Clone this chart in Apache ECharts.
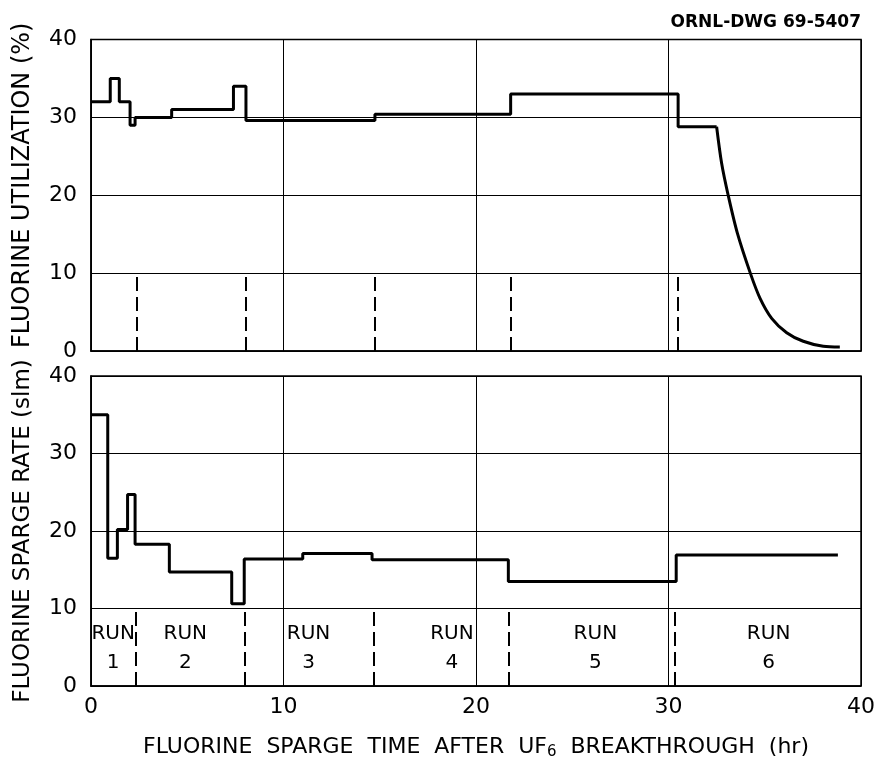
<!DOCTYPE html>
<html>
<head>
<meta charset="utf-8">
<script src="https://cdn.jsdelivr.net/npm/echarts@6/dist/echarts.min.js"></script>
<style>
  html, body { margin: 0; padding: 0; background: #fff; }
  #chart { width: 879px; height: 764px; }
</style>
</head>
<body>
<div id="chart"></div>
<script>
// utilization steps: [time where value starts, value]
var utilSteps = [[0, 32], [1.0, 35], [1.47, 32], [2.03, 29], [2.29, 30], [4.19, 31],
  [7.4, 34], [8.05, 29.6], [14.75, 30.4], [21.8, 33], [30.5, 28.8], [32.5, 28.8]];
// falling tail of run 6
var utilTail = [[32.5, 28.8], [32.76, 24.1], [33.1, 20], [33.57, 15.2], [34.25, 10], [34.75, 6.8],
  [35.36, 4.2], [36.14, 2.35], [37.0, 1.25], [38.04, 0.6], [38.9, 0.5]];
// sparge rate steps
var rateSteps = [[0, 35], [0.87, 16.5], [1.37, 20.2], [1.9, 24.7], [2.29, 18.3], [4.07, 14.7],
  [7.31, 10.6], [7.96, 16.4], [11.0, 17.1], [14.6, 16.3], [21.68, 13.5], [30.4, 16.9], [38.8, 16.9]];
// run boundaries (dashed)
var runEndsTop = [2.4, 8.05, 14.75, 21.8, 30.5];
var runEndsBottom = [2.33, 7.97, 14.68, 21.72, 30.35];
var runLabelX = [1.15, 4.9, 11.3, 18.75, 26.2, 35.2];
var runNames = ['1', '2', '3', '4', '5', '6'];
var xTicks = [0, 10, 20, 30, 40];
var yTicks = [0, 10, 20, 30, 40];

var font = 'DejaVu Sans';
var chart = echarts.init(document.getElementById('chart'));

function dashes(xs) {
  return xs.map(function (x) {
    return [{ coord: [x, 0] }, { coord: [x, 10] }];
  });
}

function yAxis(idx, name, size, pad) {
  return {
    gridIndex: idx, type: 'value', min: yTicks[0], max: yTicks[yTicks.length - 1], interval: 10,
    name: name, nameLocation: 'middle', nameGap: 56,
    nameTextStyle: { fontFamily: font, fontSize: size, color: '#000', padding: pad },
    axisLine: { show: true, lineStyle: { color: '#000', width: 1.5 } },
    axisTick: { show: false },
    axisLabel: { fontFamily: font, fontSize: 22, color: '#000', margin: 14 },
    splitLine: { lineStyle: { color: '#000', width: 1 } }
  };
}

function xAxis(idx, showLabels) {
  var ax = {
    gridIndex: idx, type: 'value', min: xTicks[0], max: xTicks[xTicks.length - 1], interval: 10,
    axisLine: { show: true, lineStyle: { color: '#000', width: 1.5 } },
    axisTick: { show: false },
    axisLabel: { show: showLabels, fontFamily: font, fontSize: 22, color: '#000', margin: 10 },
    splitLine: { lineStyle: { color: '#000', width: 1 } }
  };
  if (showLabels) {
    ax.name = '{t|FLUORINE  SPARGE  TIME  AFTER  UF}{s|6}{t|  BREAKTHROUGH  (hr)}';
    ax.nameLocation = 'middle';
    ax.nameGap = 49;
    ax.nameTextStyle = {
      rich: {
        t: { fontFamily: font, fontSize: 22, color: '#000' },
        s: { fontFamily: font, fontSize: 15, color: '#000', padding: [10, 0, 0, 0] }
      }
    };
  }
  return ax;
}

var option = {
  backgroundColor: '#fff',
  animation: false,
  title: {
    text: 'ORNL-DWG 69-5407', right: 13, top: 9,
    textStyle: { fontFamily: font, fontSize: 17, fontWeight: 'bold', color: '#000' }
  },
  grid: [
    { left: 91, top: 39.5, width: 770, height: 311.5, show: true, borderColor: '#000', borderWidth: 1.5 },
    { left: 91, top: 376, width: 770, height: 310, show: true, borderColor: '#000', borderWidth: 1.5 }
  ],
  xAxis: [xAxis(0, false), xAxis(1, true)],
  yAxis: [
    yAxis(0, 'FLUORINE UTILIZATION (%)', 24, [0, 0, 0, 20]),
    yAxis(1, 'FLUORINE SPARGE RATE (slm)', 23, [0, 0, 0, 0])
  ],
  series: [
    {
      type: 'line', xAxisIndex: 0, yAxisIndex: 0, step: 'end', data: utilSteps,
      showSymbol: false, lineStyle: { color: '#000', width: 3 },
      markLine: {
        silent: true, symbol: 'none', label: { show: false },
        lineStyle: { color: '#000', width: 2, type: [14, 6] },
        data: dashes(runEndsTop)
      }
    },
    {
      type: 'line', xAxisIndex: 0, yAxisIndex: 0, smooth: 0.3, data: utilTail,
      showSymbol: false, lineStyle: { color: '#000', width: 3 }
    },
    {
      type: 'line', xAxisIndex: 1, yAxisIndex: 1, step: 'end', data: rateSteps,
      showSymbol: false, lineStyle: { color: '#000', width: 3 },
      markLine: {
        silent: true, symbol: 'none', label: { show: false },
        lineStyle: { color: '#000', width: 2, type: [14, 6] },
        data: dashes(runEndsBottom)
      }
    },
    {
      type: 'scatter', xAxisIndex: 1, yAxisIndex: 1, symbolSize: 0,
      itemStyle: { color: '#000', opacity: 1 },
      data: runLabelX.map(function (x, i) { return { value: [x, 4.83], name: 'RUN\n' + runNames[i] }; }),
      label: {
        show: true, position: 'inside', formatter: '{b}', opacity: 1,
        fontFamily: font, fontSize: 20, lineHeight: 29, color: '#000', textBorderWidth: 0
      }
    }
  ]
};
chart.setOption(option);
</script>
</body>
</html>
